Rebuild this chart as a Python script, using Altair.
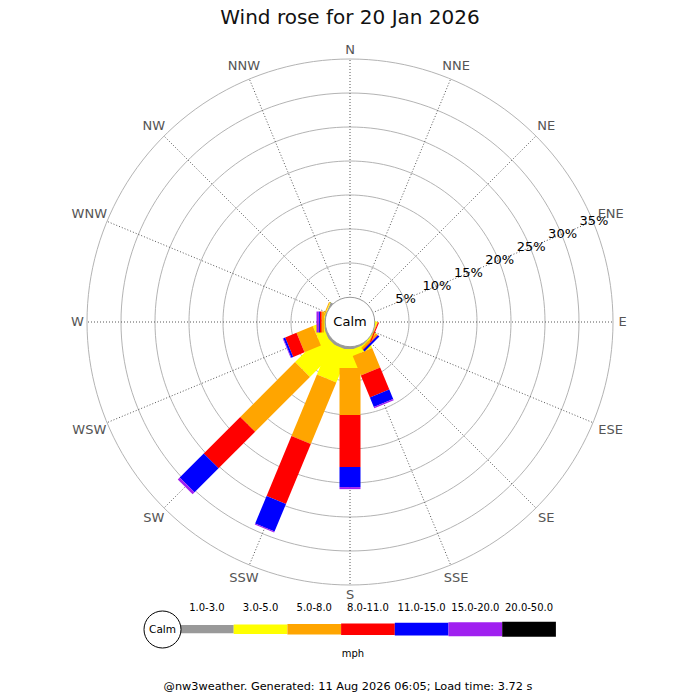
import math
import altair as alt
import pandas as pd

# ---------------- data ----------------
directions = ["N", "NNE", "NE", "ENE", "E", "ESE", "SE", "SSE",
              "S", "SSW", "SW", "WSW", "W", "WNW", "NW", "NNW"]
speed_bins = ["1.0-3.0", "3.0-5.0", "5.0-8.0", "8.0-11.0",
              "11.0-15.0", "15.0-20.0", "20.0-50.0"]
bin_colors = ["#999999", "#ffff00", "#ffa500", "#ff0000",
              "#0000ff", "#a020f0", "#000000"]

# percentage of time per speed bin, for each of the 16 directions (N clockwise)
pct_1_3   = [0, 0, 0, 0, 0, 0.00, 0.05, 0.2, 0.30, 0.30, 0.3, 0.2, 0.05, 0.05, 0, 0]
pct_3_5   = [0, 0, 0, 0, 0, 0.05, 0.15, 0.9, 2.80, 5.00, 5.9, 1.4, 0.10, 0.10, 0, 0]
pct_5_8   = [0, 0, 0, 0, 0, 0.10, 0.30, 3.1, 6.90, 9.80, 11.4, 2.6, 0.35, 0.15, 0, 0]
pct_8_11  = [0, 0, 0, 0, 0, 0.15, 0.10, 3.5, 7.65, 9.55, 7.6, 1.8, 0.25, 0, 0, 0]
pct_11_15 = [0, 0, 0, 0, 0, 0, 0.30, 1.5, 2.95, 4.40, 5.0, 0.3, 0.15, 0, 0, 0]
pct_15_20 = [0, 0, 0, 0, 0, 0, 0, 0.2, 0.30, 0.15, 0.4, 0.1, 0.35, 0, 0, 0]
pct_20_50 = [0, 0, 0, 0, 0, 0, 0, 0, 0, 0, 0, 0, 0, 0, 0, 0]

ring_levels = [5, 10, 15, 20, 25, 30, 35]
title_text = "Wind rose for 20 Jan 2026"
footer_text = "@nw3weather. Generated: 11 Aug 2026 06:05; Load time: 3.72 s"
unit_label = "mph"
calm_label = "Calm"

# ---------------- layout constants ----------------
K = 6.8            # pixels per percent
C = 25 / K         # calm circle radius, in percent units
CX, CY = 350, 322  # page position of the rose centre
W = H = 684
FONT = "DejaVu Sans"


def ux(px):
    return (px - CX) / K


def uy(py):
    return (py - CY) / K


xs = alt.Scale(domain=[ux(8), ux(8 + W)], nice=False, zero=False)
ys = alt.Scale(domain=[uy(8), uy(8 + H)], nice=False, zero=False, reverse=True)


def X(f):
    return alt.X(f, type="quantitative", scale=xs, axis=None)


def Y(f):
    return alt.Y(f, type="quantitative", scale=ys, axis=None)


color_scale = alt.Scale(domain=speed_bins, range=bin_colors)

# ---------------- tables ----------------
per_bin = [pct_1_3, pct_3_5, pct_5_8, pct_8_11, pct_11_15, pct_15_20, pct_20_50]
rows = []
for j, (b, arr) in enumerate(zip(speed_bins, per_bin)):
    for i, d in enumerate(directions):
        rows.append({"dir": d, "idx": i, "bin": b, "bin_i": j, "value": arr[i]})
bars_df = pd.DataFrame(rows)

ring_rows = [{"level": lv, "deg": deg} for lv in ring_levels for deg in range(0, 361, 2)]
rings_df = pd.DataFrame(ring_rows)
dirs_df = pd.DataFrame({"dir": directions, "idx": list(range(len(directions)))})
levels_df = pd.DataFrame({"level": ring_levels})
origin_df = pd.DataFrame({"x": [0.0], "y": [0.0]})
legend_df = pd.DataFrame({"bin": speed_bins, "bin_i": list(range(len(speed_bins)))})
R_OUT = C + max(ring_levels)

# ---------------- layers ----------------
rings = alt.Chart(rings_df).transform_calculate(
    rx=f"({C}+datum.level)*sin(datum.deg*PI/180)",
    ry=f"-({C}+datum.level)*cos(datum.deg*PI/180)",
).mark_line(color="#aaaaaa", strokeWidth=0.9).encode(
    x=X("rx"), y=Y("ry"), detail="level:N", order="deg:Q"
)

spokes = alt.Chart(dirs_df).transform_calculate(
    x0="0",
    y0="0",
    sx=f"{R_OUT}*sin(datum.idx*22.5*PI/180)",
    sy=f"-{R_OUT}*cos(datum.idx*22.5*PI/180)",
).mark_rule(color="#444444", strokeWidth=0.9, strokeDash=[1, 2]).encode(
    x=X("x0"), y=Y("y0"), x2="sx", y2="sy"
)

bars = alt.Chart(bars_df).transform_window(
    cum="sum(value)", groupby=["idx"],
    sort=[alt.SortField("bin_i", order="ascending")], frame=[None, 0]
).transform_filter("datum.value > 0").transform_calculate(
    a="datum.idx*22.5*PI/180",
    st="datum.cum - datum.value",
    r0=f"datum.st <= 0 ? 0 : {C} + datum.st",
    r1=f"{C} + datum.cum",
    bx0="datum.r0*sin(datum.a)",
    by0="-datum.r0*cos(datum.a)",
    bx1="datum.r1*sin(datum.a)",
    by1="-datum.r1*cos(datum.a)",
).mark_rule(strokeWidth=21, strokeCap="butt").encode(
    x=X("bx0"), y=Y("by0"), x2="bx1", y2="by1",
    color=alt.Color("bin:N", scale=color_scale, legend=None),
    order="bin_i:Q",
)

calm = alt.Chart(origin_df).mark_point(
    shape="circle", size=2450, fill="white", fillOpacity=1, opacity=1,
    stroke="#999999", strokeWidth=1
).encode(x=X("x"), y=Y("y"))

calm_text = alt.Chart(origin_df).mark_text(
    text=calm_label, font=FONT, fontSize=13, color="black", baseline="middle"
).encode(x=X("x"), y=Y("y"))

pct_labels = alt.Chart(levels_df).transform_calculate(
    lx=f"({C}+datum.level)*sin(67.5*PI/180)",
    ly=f"-({C}+datum.level)*cos(67.5*PI/180)",
    txt="datum.level + '%'",
).mark_text(font=FONT, fontSize=13, color="black", baseline="middle", align="center", dx=1).encode(
    x=X("lx"), y=Y("ly"), text="txt:N"
)

dir_labels = alt.Chart(dirs_df).transform_calculate(
    a="datum.idx*22.5*PI/180",
    rp=f"(268 + 0.5*abs(sin(datum.a))*length(datum.dir)*9 + 0.5*abs(cos(datum.a))*9)/{K}",
    tx="datum.rp*sin(datum.a)",
    ty="-datum.rp*cos(datum.a)",
).mark_text(font=FONT, fontSize=13, color="#555555", baseline="middle", align="center").encode(
    x=X("tx"), y=Y("ty"), text="dir:N"
)

LW = 53.7 / K
leg = alt.Chart(legend_df).transform_calculate(
    lx0=f"{ux(180)} + datum.bin_i*{LW}",
    lx1=f"datum.lx0 + {LW}",
    lxm=f"datum.lx0 + {LW / 2}",
    ly=f"{uy(629.2)}",
    lty=f"{uy(610.5)}",
)
leg_bars = leg.mark_rule(strokeCap="butt").encode(
    x=X("lx0"), x2="lx1", y=Y("ly"),
    color=alt.Color("bin:N", scale=color_scale, legend=None),
    strokeWidth=alt.StrokeWidth("bin_i:O", scale=alt.Scale(range=[8.3, 15, 20.3, 23, 25, 26.7, 28.3]), legend=None),
)
leg_labels = leg.mark_text(font=FONT, fontSize=10, color="black", baseline="alphabetic", align="center").encode(
    x=X("lxm"), y=Y("lty"), text="bin:N"
)

leg_origin = pd.DataFrame({"x": [ux(162.5)], "y": [uy(629.5)]})
leg_calm = alt.Chart(leg_origin).mark_point(
    shape="circle", size=1369, fill="white", fillOpacity=1, opacity=1,
    stroke="black", strokeWidth=1
).encode(x=X("x"), y=Y("y"))
leg_calm_text = alt.Chart(leg_origin).mark_text(
    text=calm_label, font=FONT, fontSize=10.5, color="black", baseline="middle"
).encode(x=X("x"), y=Y("y"))

mph = alt.Chart(origin_df).mark_text(
    text=unit_label, font=FONT, fontSize=10, color="black", baseline="alphabetic", align="center"
).encode(x=alt.value(353 - 8), y=alt.value(656.5 - 8))

title = alt.Chart(origin_df).mark_text(
    text=title_text, font=FONT, fontSize=20, color="#111111", baseline="alphabetic", align="center"
).encode(x=alt.value(350 - 8), y=alt.value(24.3 - 8))

footer = alt.Chart(origin_df).mark_text(
    text=footer_text, font=FONT, fontSize=11.3, color="black", baseline="alphabetic", align="center"
).encode(x=alt.value(348 - 8), y=alt.value(689.5 - 8))

chart = alt.layer(
    rings, spokes, bars, calm, calm_text, pct_labels, dir_labels,
    leg_bars, leg_labels, leg_calm, leg_calm_text, mph, title, footer
).properties(
    width=W, height=H, padding=0, autosize="none"
).configure(font=FONT).configure_view(stroke=None)

chart.save("out.html", embed_options={"renderer": "svg", "actions": False})
